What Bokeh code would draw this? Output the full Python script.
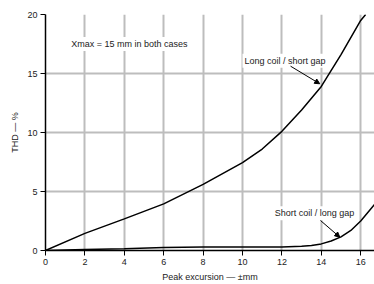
from bokeh.plotting import figure
from bokeh.models import Label, Arrow, NormalHead, FixedTicker
from bokeh.embed import file_html
from bokeh.resources import INLINE

# Data
long_x = [0, 2, 4, 6, 8, 10, 11, 12, 13, 14, 15, 16, 16.25]
long_y = [0, 1.45, 2.68, 3.95, 5.6, 7.45, 8.6, 10.1, 11.9, 13.9, 16.6, 19.5, 20]
short_x = [0, 2, 4, 6, 8, 10, 12, 13, 13.5, 14, 14.5, 15, 15.5, 16, 16.7]
short_y = [0, 0.08, 0.14, 0.25, 0.3, 0.3, 0.3, 0.36, 0.42, 0.56, 0.8, 1.15, 1.7, 2.5, 3.9]
x_ticks = [0, 2, 4, 6, 8, 10, 12, 14, 16]
y_ticks = [0, 5, 10, 15, 20]
x_max = 16.7

FONT = "Liberation Sans"
TXT = "#222222"

p = figure(width=374, height=284, x_range=(0, x_max), y_range=(y_ticks[0], y_ticks[-1]),
           output_backend="svg", toolbar_location=None)
p.min_border_left = 45
p.min_border_right = 0
p.min_border_top = 14
p.min_border_bottom = 34
p.outline_line_color = None

for ax in (p.xaxis[0], p.yaxis[0]):
    ax.axis_line_color = "black"
    ax.axis_line_width = 1.5
    ax.major_tick_line_color = "black"
    ax.major_tick_line_width = 1
    ax.major_tick_out = 5
    ax.major_tick_in = 0
    ax.minor_tick_line_color = None
    ax.major_label_text_font = FONT
    ax.major_label_text_font_size = "9px"
    ax.major_label_text_color = TXT
    ax.axis_label_text_font = FONT
    ax.axis_label_text_font_size = "9px"
    ax.axis_label_text_font_style = "normal"
    ax.axis_label_text_color = TXT
    ax.major_label_standoff = 3
    ax.axis_label_standoff = 4

p.xaxis.ticker = FixedTicker(ticks=x_ticks)
p.yaxis.ticker = FixedTicker(ticks=y_ticks)
p.xaxis.axis_label = "Peak excursion — ±mm"
p.yaxis.axis_label = "THD — %"

p.xgrid.grid_line_color = "#bdbdbd"
p.ygrid.grid_line_color = "#bdbdbd"
p.xgrid.grid_line_width = 2
p.ygrid.grid_line_width = 2

p.line(long_x, long_y, line_color="black", line_width=1.5)
p.line(short_x, short_y, line_color="black", line_width=1.5)

labels = [
    ("Xmax = 15 mm in both cases", 1.2, 17.5),
    ("Long coil / short gap", 10.0, 16.07),
    ("Short coil / long gap", 11.53, 3.16),
]
for t, x, y in labels:
    p.add_layout(Label(x=x, y=y, text=t, text_font=FONT, text_font_size="9px",
                       text_color=TXT, text_baseline="middle", text_align="left",
                       background_fill_color="white", padding=2))

arrows = [
    (12.44, 15.62, 13.92, 14.13),
    (13.96, 2.54, 14.94, 1.13),
]
for x0, y0, x1, y1 in arrows:
    p.add_layout(Arrow(x_start=x0, y_start=y0, x_end=x1, y_end=y1,
                       line_color="black", line_width=1,
                       end=NormalHead(size=5, fill_color="black", line_color="black")))

open("out.html", "w").write(file_html(p, INLINE))
